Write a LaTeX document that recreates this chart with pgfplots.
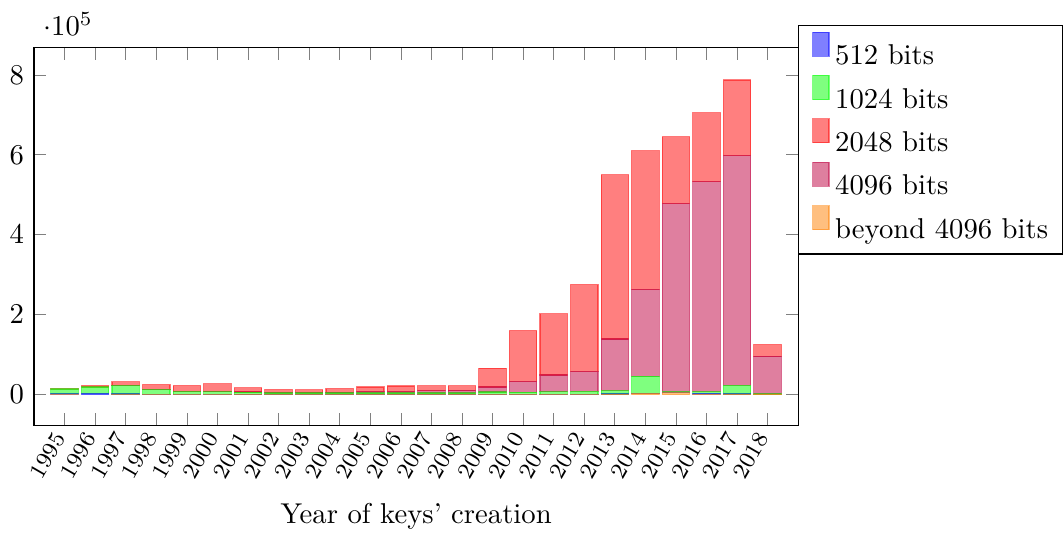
\documentclass[border=0pt]{standalone}
\usepackage{pgfplots}
\usepackage{pgfplotstable}
\pgfplotsset{compat=1.18}
\pgfplotstableread{
year beyond b512 b1024 b4096 b2048
1995 500 1500 12000 0 1000
1996 0 3000 16000 0 3500
1997 500 1000 21000 500 9000
1998 500 500 11500 500 12000
1999 500 500 6500 500 14500
2000 500 500 6000 500 19500
2001 500 500 5000 500 10500
2002 500 500 3000 1000 7500
2003 500 500 3000 1000 7000
2004 500 500 3000 2000 9000
2005 500 500 3000 4000 11000
2006 500 500 3000 4000 13500
2007 500 500 3000 6000 12000
2008 500 500 3000 7000 11000
2009 500 500 5500 12500 47000
2010 500 500 5000 27000 127000
2011 500 500 6000 42000 153000
2012 500 500 7000 50000 217000
2013 1000 500 8500 129000 411000
2014 3000 500 42500 217000 347000
2015 5000 500 2000 470500 167000
2016 1000 2000 4500 525500 172000
2017 1000 500 21500 575000 189000
2018 1000 0 500 94500 29000
}\datatable
\tikzset{
  s512/.style={fill=blue, fill opacity=0.5, draw=blue, draw opacity=0.5},
  s1024/.style={fill=green, fill opacity=0.5, draw=green, draw opacity=0.5},
  s2048/.style={fill=red, fill opacity=0.5, draw=red, draw opacity=0.5},
  s4096/.style={fill=purple, fill opacity=0.5, draw=purple, draw opacity=0.5},
  sbeyond/.style={fill=orange, fill opacity=0.5, draw=orange, draw opacity=0.5},
}
\begin{document}
\begin{tikzpicture}
\begin{axis}[
  scale only axis, width=266.5pt, height=131.7pt,
  ybar stacked, bar width=0.9,
  xmin=1994, xmax=2019, ymin=-77500, ymax=867500,
  xtick={1995,...,2018},
  scaled x ticks=false,
  x tick label style={/pgf/number format/1000 sep={}, rotate=60, anchor=east, font=\footnotesize},
  xlabel={Year of keys' creation},
  legend style={at={(1,1.06)}, anchor=north west, draw=black},
  legend cell align=left,
  legend image code/.code={\draw[#1] (1.7pt,0.3pt) rectangle (7.3pt,8.7pt); \path (0pt,0pt) (7pt,0pt);},
]
\addlegendimage{s512}
\addlegendimage{s1024}
\addlegendimage{s2048}
\addlegendimage{s4096}
\addlegendimage{sbeyond}
\addplot[sbeyond] table[x=year, y=beyond] {\datatable};
\addplot[s512] table[x=year, y=b512] {\datatable};
\addplot[s1024] table[x=year, y=b1024] {\datatable};
\addplot[s4096] table[x=year, y=b4096] {\datatable};
\addplot[s2048] table[x=year, y=b2048] {\datatable};
\legend{512 bits, 1024 bits, 2048 bits, 4096 bits, beyond 4096 bits}
\end{axis}
\path ([yshift=16.7pt]current axis.north);
\end{tikzpicture}
\end{document}
